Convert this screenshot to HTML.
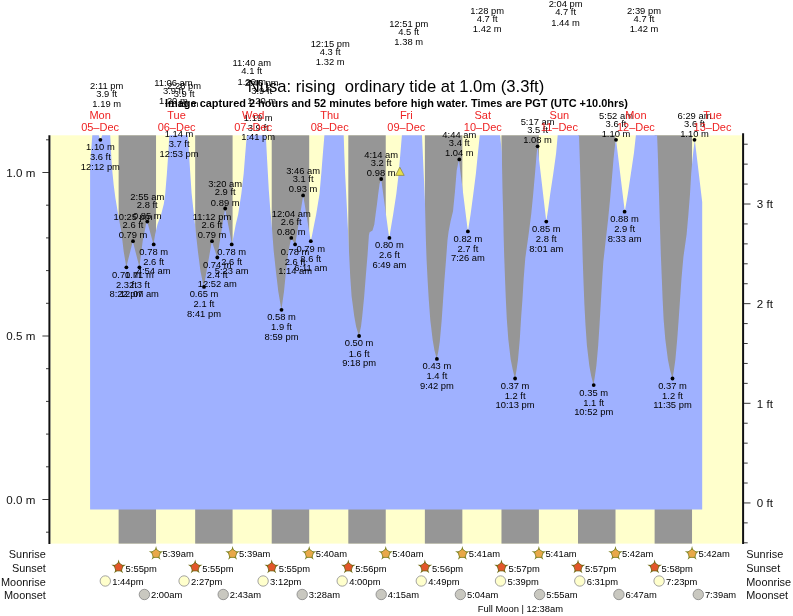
<!DOCTYPE html>
<html lang="en"><head><meta charset="utf-8"><title>Nusa tide times</title>
<style>
html,body{margin:0;padding:0;background:#fff;}
body{width:793px;height:616px;overflow:hidden;}
svg{display:block;font-family:"Liberation Sans",Arial,Helvetica,sans-serif;}
.s{font-size:9.4px;fill:#000;}
.d{font-size:11px;fill:#ee2222;}
.ax{font-size:11.6px;fill:#111;}
.lg{font-size:10.9px;fill:#111;}
.t{font-size:16.2px;fill:#000;}
.b{font-size:10.3px;font-weight:bold;fill:#000;}
</style></head><body>
<svg width="793" height="616" viewBox="0 0 793 616">
<defs><clipPath id="pc"><rect x="50.4" y="135.3" width="691.7" height="408.3"/></clipPath></defs>
<rect x="0" y="0" width="793" height="616" fill="#fff"/>
<rect x="50.4" y="135.3" width="691.7" height="408.3" fill="#ffffcc"/>
<rect x="118.62" y="135.3" width="37.42" height="408.3" fill="#969696"/>
<rect x="195.17" y="135.3" width="37.42" height="408.3" fill="#969696"/>
<rect x="271.72" y="135.3" width="37.48" height="408.3" fill="#969696"/>
<rect x="348.32" y="135.3" width="37.42" height="408.3" fill="#969696"/>
<rect x="424.87" y="135.3" width="37.48" height="408.3" fill="#969696"/>
<rect x="501.47" y="135.3" width="37.42" height="408.3" fill="#969696"/>
<rect x="578.02" y="135.3" width="37.48" height="408.3" fill="#969696"/>
<rect x="654.62" y="135.3" width="37.42" height="408.3" fill="#969696"/>
<path clip-path="url(#pc)" d="M90.10,509.60L90.10,165.00L92.30,135.30L93.30,122.00L97.80,122.00L98.80,135.30L100.40,140.50L102.10,135.30L103.00,122.00L109.60,122.00L110.20,135.30L110.80,146.00L111.40,159.00L112.40,172.00L113.70,185.00L115.40,198.00L117.60,211.00L119.50,222.00L121.30,231.20L123.70,251.50L126.30,267.10L132.80,241.20L139.40,267.00L142.70,241.00L146.00,224.60L147.20,221.40L153.50,244.50L155.10,234.50L157.50,224.30L161.20,214.20L163.80,204.00L165.20,193.90L166.90,173.60L168.30,153.30L169.30,135.30L170.00,122.00L187.30,122.00L188.00,135.30L189.50,161.60L191.60,193.30L195.10,225.50L197.90,251.20L200.50,271.50L203.80,287.10L211.80,241.20L217.20,257.40L225.10,208.50L232.00,244.40L233.80,234.50L235.80,224.30L238.20,214.20L241.30,193.90L243.70,173.60L245.30,153.30L246.80,135.30L247.50,122.00L265.00,122.00L265.80,135.30L267.20,161.60L268.80,190.00L270.30,210.00L272.00,228.50L273.70,250.90L275.90,271.20L278.30,291.50L281.40,309.70L284.00,291.50L286.00,271.20L288.50,250.90L291.20,238.00L295.20,244.60L303.20,195.40L310.80,241.20L312.20,234.50L314.20,224.30L316.20,214.20L319.50,193.90L321.30,173.60L322.90,153.30L324.40,135.30L325.10,122.00L343.00,122.00L343.70,135.30L344.30,153.30L345.10,173.60L346.20,193.90L347.20,214.20L348.20,234.50L349.20,255.60L350.20,275.90L351.60,296.20L354.30,316.50L356.10,326.60L358.90,336.00L361.00,326.60L362.20,316.50L364.20,296.20L365.80,275.90L367.50,255.60L368.90,235.30L369.60,232.20L372.50,230.60L374.30,224.50L375.60,214.20L377.00,204.00L378.20,193.90L379.60,183.70L381.20,179.20L389.20,237.90L391.20,226.00L393.20,214.20L396.30,193.90L398.70,173.60L400.40,153.30L401.90,135.30L402.60,122.00L421.30,122.00L422.00,135.30L423.10,160.00L424.00,180.00L424.90,200.00L425.40,220.00L425.90,240.00L426.60,260.00L427.60,280.00L428.80,300.00L430.30,320.00L432.70,340.00L434.40,350.00L436.70,358.80L438.30,351.60L439.80,341.50L441.60,321.20L443.00,300.90L444.40,280.60L446.00,260.30L447.50,240.00L448.60,231.50L450.60,221.30L453.00,211.20L455.00,190.90L456.70,170.60L458.90,159.40L467.90,231.50L470.60,214.20L473.30,193.90L475.90,173.60L477.90,153.30L479.80,135.30L480.50,122.00L499.30,122.00L500.10,135.30L501.80,152.00L502.20,173.60L502.60,193.90L503.20,214.20L503.60,234.50L504.20,256.00L505.00,278.30L505.80,298.60L506.80,318.90L508.30,339.20L510.70,359.50L512.70,369.60L515.00,378.70L516.60,369.60L518.00,359.50L519.80,339.20L521.00,318.90L522.50,298.60L523.70,278.30L525.30,258.00L528.60,234.50L531.20,214.20L533.20,193.90L535.00,173.60L536.70,153.30L537.50,146.30L546.30,221.50L548.30,208.00L550.20,193.90L553.30,173.60L556.10,153.30L557.70,135.30L558.40,122.00L578.20,122.00L579.00,135.30L579.80,159.30L580.40,179.60L581.00,199.90L581.60,220.20L582.20,240.50L582.80,262.00L583.60,284.30L584.40,304.60L585.50,324.90L586.90,345.20L589.30,365.50L591.10,375.60L593.50,385.00L595.00,375.60L596.40,365.50L598.20,345.20L599.50,324.90L600.70,304.60L601.90,284.30L603.30,262.00L605.70,240.50L608.00,220.20L610.00,199.90L611.80,179.60L613.50,159.30L615.10,144.00L616.10,139.90L624.80,211.60L627.80,193.90L630.90,173.60L633.90,153.30L635.90,135.30L636.60,122.00L656.40,122.00L657.10,135.30L657.80,153.30L658.40,173.60L659.00,193.90L659.60,214.20L660.20,234.50L660.90,256.00L661.80,278.30L662.60,298.60L663.60,318.90L665.30,339.20L667.90,359.50L669.90,369.60L672.50,378.70L674.00,369.60L675.40,359.50L677.20,339.20L678.70,318.90L680.10,298.60L681.50,278.30L683.40,257.00L686.60,234.50L688.40,214.20L690.00,193.90L691.20,173.60L692.40,160.00L693.60,149.00L694.80,140.00L702.20,202.00L702.20,509.60 Z" fill="#9fb1ff"/>
<g stroke="#111" stroke-width="2" fill="none">
<line x1="49.4" y1="135.3" x2="49.4" y2="543.9"/>
<line x1="743.1" y1="133.3" x2="743.1" y2="543.9"/>
</g>
<g stroke="#222" stroke-width="0.9" fill="none">
<line x1="46" y1="532.20" x2="49" y2="532.20"/>
<line x1="42.4" y1="499.50" x2="49" y2="499.50"/>
<line x1="46" y1="466.80" x2="49" y2="466.80"/>
<line x1="46" y1="434.10" x2="49" y2="434.10"/>
<line x1="46" y1="401.40" x2="49" y2="401.40"/>
<line x1="46" y1="368.70" x2="49" y2="368.70"/>
<line x1="42.4" y1="336.00" x2="49" y2="336.00"/>
<line x1="46" y1="303.30" x2="49" y2="303.30"/>
<line x1="46" y1="270.60" x2="49" y2="270.60"/>
<line x1="46" y1="237.90" x2="49" y2="237.90"/>
<line x1="46" y1="205.20" x2="49" y2="205.20"/>
<line x1="42.4" y1="172.50" x2="49" y2="172.50"/>
<line x1="46" y1="139.80" x2="49" y2="139.80"/>
<line x1="744" y1="542.81" x2="747.7" y2="542.81"/>
<line x1="744" y1="522.88" x2="747.7" y2="522.88"/>
<line x1="744" y1="502.95" x2="750.5" y2="502.95"/>
<line x1="744" y1="483.02" x2="747.7" y2="483.02"/>
<line x1="744" y1="463.09" x2="747.7" y2="463.09"/>
<line x1="744" y1="443.16" x2="747.7" y2="443.16"/>
<line x1="744" y1="423.23" x2="747.7" y2="423.23"/>
<line x1="744" y1="403.30" x2="750.5" y2="403.30"/>
<line x1="744" y1="383.37" x2="747.7" y2="383.37"/>
<line x1="744" y1="363.44" x2="747.7" y2="363.44"/>
<line x1="744" y1="343.51" x2="747.7" y2="343.51"/>
<line x1="744" y1="323.58" x2="747.7" y2="323.58"/>
<line x1="744" y1="303.65" x2="750.5" y2="303.65"/>
<line x1="744" y1="283.72" x2="747.7" y2="283.72"/>
<line x1="744" y1="263.79" x2="747.7" y2="263.79"/>
<line x1="744" y1="243.86" x2="747.7" y2="243.86"/>
<line x1="744" y1="223.93" x2="747.7" y2="223.93"/>
<line x1="744" y1="204.00" x2="750.5" y2="204.00"/>
<line x1="744" y1="184.07" x2="747.7" y2="184.07"/>
<line x1="744" y1="164.14" x2="747.7" y2="164.14"/>
<line x1="744" y1="144.21" x2="747.7" y2="144.21"/>
</g>
<text class="ax" x="35.3" y="176.9" text-anchor="end">1.0 m</text>
<text class="ax" x="35.3" y="340.4" text-anchor="end">0.5 m</text>
<text class="ax" x="35.3" y="503.9" text-anchor="end">0.0 m</text>
<text class="ax" x="756.8" y="208.4">3 ft</text>
<text class="ax" x="756.8" y="308.0">2 ft</text>
<text class="ax" x="756.8" y="407.7">1 ft</text>
<text class="ax" x="756.8" y="507.4">0 ft</text>
<circle cx="100.4" cy="139.8" r="1.9" fill="#000"/>
<circle cx="126.4" cy="267.3" r="1.9" fill="#000"/>
<circle cx="133.0" cy="241.2" r="1.9" fill="#000"/>
<circle cx="139.4" cy="267.3" r="1.9" fill="#000"/>
<circle cx="147.3" cy="221.6" r="1.9" fill="#000"/>
<circle cx="153.7" cy="244.4" r="1.9" fill="#000"/>
<circle cx="204.0" cy="286.9" r="1.9" fill="#000"/>
<circle cx="212.0" cy="241.2" r="1.9" fill="#000"/>
<circle cx="217.3" cy="257.5" r="1.9" fill="#000"/>
<circle cx="225.2" cy="208.5" r="1.9" fill="#000"/>
<circle cx="231.7" cy="244.4" r="1.9" fill="#000"/>
<circle cx="281.5" cy="309.8" r="1.9" fill="#000"/>
<circle cx="291.3" cy="237.9" r="1.9" fill="#000"/>
<circle cx="295.1" cy="244.4" r="1.9" fill="#000"/>
<circle cx="303.1" cy="195.4" r="1.9" fill="#000"/>
<circle cx="310.8" cy="241.2" r="1.9" fill="#000"/>
<circle cx="359.1" cy="336.0" r="1.9" fill="#000"/>
<circle cx="381.2" cy="179.0" r="1.9" fill="#000"/>
<circle cx="389.4" cy="237.9" r="1.9" fill="#000"/>
<circle cx="436.9" cy="358.9" r="1.9" fill="#000"/>
<circle cx="459.3" cy="159.4" r="1.9" fill="#000"/>
<circle cx="467.9" cy="231.4" r="1.9" fill="#000"/>
<circle cx="515.1" cy="378.5" r="1.9" fill="#000"/>
<circle cx="537.6" cy="146.3" r="1.9" fill="#000"/>
<circle cx="546.3" cy="221.6" r="1.9" fill="#000"/>
<circle cx="593.7" cy="385.1" r="1.9" fill="#000"/>
<circle cx="616.0" cy="139.8" r="1.9" fill="#000"/>
<circle cx="624.6" cy="211.7" r="1.9" fill="#000"/>
<circle cx="672.5" cy="378.5" r="1.9" fill="#000"/>
<circle cx="694.5" cy="139.8" r="1.9" fill="#000"/>
<text class="s" x="100.4" y="150.2" text-anchor="middle">1.10 m</text>
<text class="s" x="100.4" y="160.3" text-anchor="middle">3.6 ft</text>
<text class="s" x="100.4" y="169.7" text-anchor="middle">12:12 pm</text>
<text class="s" x="106.7" y="89.1" text-anchor="middle">2:11 pm</text>
<text class="s" x="106.7" y="97.1" text-anchor="middle">3.9 ft</text>
<text class="s" x="106.7" y="107.4" text-anchor="middle">1.19 m</text>
<text class="s" x="126.4" y="277.7" text-anchor="middle">0.71 m</text>
<text class="s" x="126.4" y="287.8" text-anchor="middle">2.3 ft</text>
<text class="s" x="126.4" y="297.2" text-anchor="middle">8:22 pm</text>
<text class="s" x="133.0" y="219.9" text-anchor="middle">10:25 pm</text>
<text class="s" x="133.0" y="227.9" text-anchor="middle">2.6 ft</text>
<text class="s" x="133.0" y="238.2" text-anchor="middle">0.79 m</text>
<text class="s" x="139.4" y="277.7" text-anchor="middle">0.71 m</text>
<text class="s" x="139.4" y="287.8" text-anchor="middle">2.3 ft</text>
<text class="s" x="139.4" y="297.2" text-anchor="middle">12:07 am</text>
<text class="s" x="147.3" y="200.3" text-anchor="middle">2:55 am</text>
<text class="s" x="147.3" y="208.3" text-anchor="middle">2.8 ft</text>
<text class="s" x="147.3" y="218.6" text-anchor="middle">0.85 m</text>
<text class="s" x="153.7" y="254.8" text-anchor="middle">0.78 m</text>
<text class="s" x="153.7" y="264.9" text-anchor="middle">2.6 ft</text>
<text class="s" x="153.7" y="274.3" text-anchor="middle">4:54 am</text>
<text class="s" x="173.4" y="85.8" text-anchor="middle">11:06 am</text>
<text class="s" x="173.4" y="93.8" text-anchor="middle">3.9 ft</text>
<text class="s" x="173.4" y="104.1" text-anchor="middle">1.20 m</text>
<text class="s" x="179.1" y="137.1" text-anchor="middle">1.14 m</text>
<text class="s" x="179.1" y="147.2" text-anchor="middle">3.7 ft</text>
<text class="s" x="179.1" y="156.6" text-anchor="middle">12:53 pm</text>
<text class="s" x="184.2" y="89.1" text-anchor="middle">2:28 pm</text>
<text class="s" x="184.2" y="97.1" text-anchor="middle">3.9 ft</text>
<text class="s" x="184.2" y="107.4" text-anchor="middle">1.19 m</text>
<text class="s" x="204.0" y="297.4" text-anchor="middle">0.65 m</text>
<text class="s" x="204.0" y="307.4" text-anchor="middle">2.1 ft</text>
<text class="s" x="204.0" y="316.9" text-anchor="middle">8:41 pm</text>
<text class="s" x="212.0" y="219.9" text-anchor="middle">11:12 pm</text>
<text class="s" x="212.0" y="227.9" text-anchor="middle">2.6 ft</text>
<text class="s" x="212.0" y="238.2" text-anchor="middle">0.79 m</text>
<text class="s" x="217.3" y="267.9" text-anchor="middle">0.74 m</text>
<text class="s" x="217.3" y="278.0" text-anchor="middle">2.4 ft</text>
<text class="s" x="217.3" y="287.4" text-anchor="middle">12:52 am</text>
<text class="s" x="225.2" y="187.2" text-anchor="middle">3:20 am</text>
<text class="s" x="225.2" y="195.2" text-anchor="middle">2.9 ft</text>
<text class="s" x="225.2" y="205.5" text-anchor="middle">0.89 m</text>
<text class="s" x="231.7" y="254.8" text-anchor="middle">0.78 m</text>
<text class="s" x="231.7" y="264.9" text-anchor="middle">2.6 ft</text>
<text class="s" x="231.7" y="274.3" text-anchor="middle">5:23 am</text>
<text class="s" x="251.8" y="66.2" text-anchor="middle">11:40 am</text>
<text class="s" x="251.8" y="74.2" text-anchor="middle">4.1 ft</text>
<text class="s" x="251.8" y="84.5" text-anchor="middle">1.26 m</text>
<text class="s" x="258.2" y="120.8" text-anchor="middle">1.19 m</text>
<text class="s" x="258.2" y="130.9" text-anchor="middle">3.9 ft</text>
<text class="s" x="258.2" y="140.3" text-anchor="middle">1:41 pm</text>
<text class="s" x="261.7" y="85.8" text-anchor="middle">2:46 pm</text>
<text class="s" x="261.7" y="93.8" text-anchor="middle">3.9 ft</text>
<text class="s" x="261.7" y="104.1" text-anchor="middle">1.20 m</text>
<text class="s" x="281.5" y="320.2" text-anchor="middle">0.58 m</text>
<text class="s" x="281.5" y="330.3" text-anchor="middle">1.9 ft</text>
<text class="s" x="281.5" y="339.7" text-anchor="middle">8:59 pm</text>
<text class="s" x="291.3" y="216.6" text-anchor="middle">12:04 am</text>
<text class="s" x="291.3" y="224.6" text-anchor="middle">2.6 ft</text>
<text class="s" x="291.3" y="234.9" text-anchor="middle">0.80 m</text>
<text class="s" x="295.1" y="254.8" text-anchor="middle">0.78 m</text>
<text class="s" x="295.1" y="264.9" text-anchor="middle">2.6 ft</text>
<text class="s" x="295.1" y="274.3" text-anchor="middle">1:14 am</text>
<text class="s" x="303.1" y="174.1" text-anchor="middle">3:46 am</text>
<text class="s" x="303.1" y="182.1" text-anchor="middle">3.1 ft</text>
<text class="s" x="303.1" y="192.4" text-anchor="middle">0.93 m</text>
<text class="s" x="310.8" y="251.6" text-anchor="middle">0.79 m</text>
<text class="s" x="310.8" y="261.7" text-anchor="middle">2.6 ft</text>
<text class="s" x="310.8" y="271.1" text-anchor="middle">6:11 am</text>
<text class="s" x="330.2" y="46.6" text-anchor="middle">12:15 pm</text>
<text class="s" x="330.2" y="54.6" text-anchor="middle">4.3 ft</text>
<text class="s" x="330.2" y="64.9" text-anchor="middle">1.32 m</text>
<text class="s" x="359.1" y="346.4" text-anchor="middle">0.50 m</text>
<text class="s" x="359.1" y="356.5" text-anchor="middle">1.6 ft</text>
<text class="s" x="359.1" y="365.9" text-anchor="middle">9:18 pm</text>
<text class="s" x="381.2" y="157.7" text-anchor="middle">4:14 am</text>
<text class="s" x="381.2" y="165.7" text-anchor="middle">3.2 ft</text>
<text class="s" x="381.2" y="176.0" text-anchor="middle">0.98 m</text>
<text class="s" x="389.4" y="248.3" text-anchor="middle">0.80 m</text>
<text class="s" x="389.4" y="258.4" text-anchor="middle">2.6 ft</text>
<text class="s" x="389.4" y="267.8" text-anchor="middle">6:49 am</text>
<text class="s" x="408.7" y="26.9" text-anchor="middle">12:51 pm</text>
<text class="s" x="408.7" y="34.9" text-anchor="middle">4.5 ft</text>
<text class="s" x="408.7" y="45.2" text-anchor="middle">1.38 m</text>
<text class="s" x="436.9" y="369.3" text-anchor="middle">0.43 m</text>
<text class="s" x="436.9" y="379.4" text-anchor="middle">1.4 ft</text>
<text class="s" x="436.9" y="388.8" text-anchor="middle">9:42 pm</text>
<text class="s" x="459.3" y="138.1" text-anchor="middle">4:44 am</text>
<text class="s" x="459.3" y="146.1" text-anchor="middle">3.4 ft</text>
<text class="s" x="459.3" y="156.4" text-anchor="middle">1.04 m</text>
<text class="s" x="467.9" y="241.8" text-anchor="middle">0.82 m</text>
<text class="s" x="467.9" y="251.9" text-anchor="middle">2.7 ft</text>
<text class="s" x="467.9" y="261.3" text-anchor="middle">7:26 am</text>
<text class="s" x="487.2" y="13.9" text-anchor="middle">1:28 pm</text>
<text class="s" x="487.2" y="21.9" text-anchor="middle">4.7 ft</text>
<text class="s" x="487.2" y="32.2" text-anchor="middle">1.42 m</text>
<text class="s" x="515.1" y="388.9" text-anchor="middle">0.37 m</text>
<text class="s" x="515.1" y="399.0" text-anchor="middle">1.2 ft</text>
<text class="s" x="515.1" y="408.4" text-anchor="middle">10:13 pm</text>
<text class="s" x="537.6" y="125.0" text-anchor="middle">5:17 am</text>
<text class="s" x="537.6" y="133.0" text-anchor="middle">3.5 ft</text>
<text class="s" x="537.6" y="143.3" text-anchor="middle">1.08 m</text>
<text class="s" x="546.3" y="232.0" text-anchor="middle">0.85 m</text>
<text class="s" x="546.3" y="242.1" text-anchor="middle">2.8 ft</text>
<text class="s" x="546.3" y="251.5" text-anchor="middle">8:01 am</text>
<text class="s" x="565.6" y="7.3" text-anchor="middle">2:04 pm</text>
<text class="s" x="565.6" y="15.3" text-anchor="middle">4.7 ft</text>
<text class="s" x="565.6" y="25.6" text-anchor="middle">1.44 m</text>
<text class="s" x="593.7" y="395.5" text-anchor="middle">0.35 m</text>
<text class="s" x="593.7" y="405.6" text-anchor="middle">1.1 ft</text>
<text class="s" x="593.7" y="415.0" text-anchor="middle">10:52 pm</text>
<text class="s" x="616.0" y="118.5" text-anchor="middle">5:52 am</text>
<text class="s" x="616.0" y="126.5" text-anchor="middle">3.6 ft</text>
<text class="s" x="616.0" y="136.8" text-anchor="middle">1.10 m</text>
<text class="s" x="624.6" y="222.1" text-anchor="middle">0.88 m</text>
<text class="s" x="624.6" y="232.2" text-anchor="middle">2.9 ft</text>
<text class="s" x="624.6" y="241.6" text-anchor="middle">8:33 am</text>
<text class="s" x="644.0" y="13.9" text-anchor="middle">2:39 pm</text>
<text class="s" x="644.0" y="21.9" text-anchor="middle">4.7 ft</text>
<text class="s" x="644.0" y="32.2" text-anchor="middle">1.42 m</text>
<text class="s" x="672.5" y="388.9" text-anchor="middle">0.37 m</text>
<text class="s" x="672.5" y="399.0" text-anchor="middle">1.2 ft</text>
<text class="s" x="672.5" y="408.4" text-anchor="middle">11:35 pm</text>
<text class="s" x="694.5" y="118.5" text-anchor="middle">6:29 am</text>
<text class="s" x="694.5" y="126.5" text-anchor="middle">3.6 ft</text>
<text class="s" x="694.5" y="136.8" text-anchor="middle">1.10 m</text>
<path d="M399.8,167.2 L404.2,175.4 L395.6,175.4 Z" fill="#e6e04a" stroke="#8f8848" stroke-width="0.8"/>
<text class="t" x="247.8" y="92.2" textLength="296.4" lengthAdjust="spacingAndGlyphs" style="white-space:pre">Nusa: rising  ordinary tide at 1.0m (3.3ft)</text>
<text class="b" x="165" y="107" textLength="463" lengthAdjust="spacingAndGlyphs">Image captured 2 hours and 52 minutes before high water. Times are PGT (UTC +10.0hrs)</text>
<text class="d" x="100.1" y="118.6" text-anchor="middle">Mon</text>
<text class="d" x="100.1" y="131" text-anchor="middle">05–Dec</text>
<text class="d" x="176.6" y="118.6" text-anchor="middle">Tue</text>
<text class="d" x="176.6" y="131" text-anchor="middle">06–Dec</text>
<text class="d" x="253.2" y="118.6" text-anchor="middle">Wed</text>
<text class="d" x="253.2" y="131" text-anchor="middle">07–Dec</text>
<text class="d" x="329.7" y="118.6" text-anchor="middle">Thu</text>
<text class="d" x="329.7" y="131" text-anchor="middle">08–Dec</text>
<text class="d" x="406.3" y="118.6" text-anchor="middle">Fri</text>
<text class="d" x="406.3" y="131" text-anchor="middle">09–Dec</text>
<text class="d" x="482.8" y="118.6" text-anchor="middle">Sat</text>
<text class="d" x="482.8" y="131" text-anchor="middle">10–Dec</text>
<text class="d" x="559.4" y="118.6" text-anchor="middle">Sun</text>
<text class="d" x="559.4" y="131" text-anchor="middle">11–Dec</text>
<text class="d" x="635.9" y="118.6" text-anchor="middle">Mon</text>
<text class="d" x="635.9" y="131" text-anchor="middle">12–Dec</text>
<text class="d" x="712.5" y="118.6" text-anchor="middle">Tue</text>
<text class="d" x="712.5" y="131" text-anchor="middle">13–Dec</text>
<text class="lg" x="45.8" y="558.0" text-anchor="end">Sunrise</text>
<text class="lg" x="746.3" y="558.0">Sunrise</text>
<text class="lg" x="45.8" y="571.8" text-anchor="end">Sunset</text>
<text class="lg" x="746.3" y="571.8">Sunset</text>
<text class="lg" x="45.8" y="585.5" text-anchor="end">Moonrise</text>
<text class="lg" x="746.3" y="585.5">Moonrise</text>
<text class="lg" x="45.8" y="599.1" text-anchor="end">Moonset</text>
<text class="lg" x="746.3" y="599.1">Moonset</text>
<polygon points="156.04,546.10 157.57,551.60 163.27,551.35 158.52,554.50 160.51,559.85 156.04,556.30 151.58,559.85 153.57,554.50 148.82,551.35 154.52,551.60" fill="#7a8020"/><polygon points="156.04,549.10 160.42,552.28 158.75,557.42 153.34,557.42 151.67,552.28" fill="#e8a848" stroke="#7a8020" stroke-width="0.8" stroke-linejoin="round"/>
<text class="s" x="162.5" y="557.3">5:39am</text>
<polygon points="118.62,559.60 120.15,565.10 125.85,564.85 121.09,568.00 123.09,573.35 118.62,569.80 114.15,573.35 116.15,568.00 111.39,564.85 117.09,565.10" fill="#6e6a14"/><polygon points="118.62,562.60 123.00,565.78 121.33,570.92 115.92,570.92 114.25,565.78" fill="#e2562a" stroke="#6e6a14" stroke-width="0.8" stroke-linejoin="round"/>
<text class="s" x="125.6" y="572.2">5:55pm</text>
<circle cx="105.3" cy="581" r="5.2" fill="#ffffcc" stroke="#9a9a9a" stroke-width="0.9"/>
<text class="s" x="112.3" y="585.3">1:44pm</text>
<circle cx="144.4" cy="594.5" r="5.2" fill="#c9c8c0" stroke="#8c8c8c" stroke-width="0.9"/>
<text class="s" x="151.0" y="598.3">2:00am</text>
<polygon points="232.59,546.10 234.12,551.60 239.82,551.35 235.07,554.50 237.06,559.85 232.59,556.30 228.13,559.85 230.12,554.50 225.36,551.35 231.06,551.60" fill="#7a8020"/><polygon points="232.59,549.10 236.97,552.28 235.30,557.42 229.89,557.42 228.22,552.28" fill="#e8a848" stroke="#7a8020" stroke-width="0.8" stroke-linejoin="round"/>
<text class="s" x="239.1" y="557.3">5:39am</text>
<polygon points="195.17,559.60 196.70,565.10 202.40,564.85 197.64,568.00 199.64,573.35 195.17,569.80 190.70,573.35 192.70,568.00 187.94,564.85 193.64,565.10" fill="#6e6a14"/><polygon points="195.17,562.60 199.54,565.78 197.87,570.92 192.47,570.92 190.79,565.78" fill="#e2562a" stroke="#6e6a14" stroke-width="0.8" stroke-linejoin="round"/>
<text class="s" x="202.2" y="572.2">5:55pm</text>
<circle cx="184.1" cy="581" r="5.2" fill="#ffffcc" stroke="#9a9a9a" stroke-width="0.9"/>
<text class="s" x="191.1" y="585.3">2:27pm</text>
<circle cx="223.2" cy="594.5" r="5.2" fill="#c9c8c0" stroke="#8c8c8c" stroke-width="0.9"/>
<text class="s" x="229.8" y="598.3">2:43am</text>
<polygon points="309.19,546.10 310.72,551.60 316.42,551.35 311.67,554.50 313.66,559.85 309.19,556.30 304.73,559.85 306.72,554.50 301.97,551.35 307.67,551.60" fill="#7a8020"/><polygon points="309.19,549.10 313.57,552.28 311.90,557.42 306.49,557.42 304.82,552.28" fill="#e8a848" stroke="#7a8020" stroke-width="0.8" stroke-linejoin="round"/>
<text class="s" x="315.7" y="557.3">5:40am</text>
<polygon points="271.72,559.60 273.25,565.10 278.95,564.85 274.19,568.00 276.18,573.35 271.72,569.80 267.25,573.35 269.24,568.00 264.49,564.85 270.19,565.10" fill="#6e6a14"/><polygon points="271.72,562.60 276.09,565.78 274.42,570.92 269.01,570.92 267.34,565.78" fill="#e2562a" stroke="#6e6a14" stroke-width="0.8" stroke-linejoin="round"/>
<text class="s" x="278.7" y="572.2">5:55pm</text>
<circle cx="263.1" cy="581" r="5.2" fill="#ffffcc" stroke="#9a9a9a" stroke-width="0.9"/>
<text class="s" x="270.1" y="585.3">3:12pm</text>
<circle cx="302.2" cy="594.5" r="5.2" fill="#c9c8c0" stroke="#8c8c8c" stroke-width="0.9"/>
<text class="s" x="308.8" y="598.3">3:28am</text>
<polygon points="385.74,546.10 387.27,551.60 392.97,551.35 388.21,554.50 390.21,559.85 385.74,556.30 381.27,559.85 383.27,554.50 378.51,551.35 384.21,551.60" fill="#7a8020"/><polygon points="385.74,549.10 390.12,552.28 388.45,557.42 383.04,557.42 381.37,552.28" fill="#e8a848" stroke="#7a8020" stroke-width="0.8" stroke-linejoin="round"/>
<text class="s" x="392.2" y="557.3">5:40am</text>
<polygon points="348.32,559.60 349.85,565.10 355.55,564.85 350.79,568.00 352.79,573.35 348.32,569.80 343.85,573.35 345.85,568.00 341.09,564.85 346.79,565.10" fill="#6e6a14"/><polygon points="348.32,562.60 352.69,565.78 351.02,570.92 345.61,570.92 343.94,565.78" fill="#e2562a" stroke="#6e6a14" stroke-width="0.8" stroke-linejoin="round"/>
<text class="s" x="355.3" y="572.2">5:56pm</text>
<circle cx="342.2" cy="581" r="5.2" fill="#ffffcc" stroke="#9a9a9a" stroke-width="0.9"/>
<text class="s" x="349.2" y="585.3">4:00pm</text>
<circle cx="381.2" cy="594.5" r="5.2" fill="#c9c8c0" stroke="#8c8c8c" stroke-width="0.9"/>
<text class="s" x="387.8" y="598.3">4:15am</text>
<polygon points="462.34,546.10 463.87,551.60 469.57,551.35 464.82,554.50 466.81,559.85 462.34,556.30 457.88,559.85 459.87,554.50 455.11,551.35 460.81,551.60" fill="#7a8020"/><polygon points="462.34,549.10 466.72,552.28 465.05,557.42 459.64,557.42 457.97,552.28" fill="#e8a848" stroke="#7a8020" stroke-width="0.8" stroke-linejoin="round"/>
<text class="s" x="468.8" y="557.3">5:41am</text>
<polygon points="424.87,559.60 426.39,565.10 432.09,564.85 427.34,568.00 429.33,573.35 424.87,569.80 420.40,573.35 422.39,568.00 417.64,564.85 423.34,565.10" fill="#6e6a14"/><polygon points="424.87,562.60 429.24,565.78 427.57,570.92 422.16,570.92 420.49,565.78" fill="#e2562a" stroke="#6e6a14" stroke-width="0.8" stroke-linejoin="round"/>
<text class="s" x="431.9" y="572.2">5:56pm</text>
<circle cx="421.3" cy="581" r="5.2" fill="#ffffcc" stroke="#9a9a9a" stroke-width="0.9"/>
<text class="s" x="428.3" y="585.3">4:49pm</text>
<circle cx="460.4" cy="594.5" r="5.2" fill="#c9c8c0" stroke="#8c8c8c" stroke-width="0.9"/>
<text class="s" x="467.0" y="598.3">5:04am</text>
<polygon points="538.89,546.10 540.42,551.60 546.12,551.35 541.36,554.50 543.36,559.85 538.89,556.30 534.42,559.85 536.42,554.50 531.66,551.35 537.36,551.60" fill="#7a8020"/><polygon points="538.89,549.10 543.27,552.28 541.59,557.42 536.19,557.42 534.52,552.28" fill="#e8a848" stroke="#7a8020" stroke-width="0.8" stroke-linejoin="round"/>
<text class="s" x="545.4" y="557.3">5:41am</text>
<polygon points="501.47,559.60 503.00,565.10 508.70,564.85 503.94,568.00 505.93,573.35 501.47,569.80 497.00,573.35 498.99,568.00 494.24,564.85 499.94,565.10" fill="#6e6a14"/><polygon points="501.47,562.60 505.84,565.78 504.17,570.92 498.76,570.92 497.09,565.78" fill="#e2562a" stroke="#6e6a14" stroke-width="0.8" stroke-linejoin="round"/>
<text class="s" x="508.5" y="572.2">5:57pm</text>
<circle cx="500.5" cy="581" r="5.2" fill="#ffffcc" stroke="#9a9a9a" stroke-width="0.9"/>
<text class="s" x="507.5" y="585.3">5:39pm</text>
<circle cx="539.6" cy="594.5" r="5.2" fill="#c9c8c0" stroke="#8c8c8c" stroke-width="0.9"/>
<text class="s" x="546.2" y="598.3">5:55am</text>
<polygon points="615.49,546.10 617.02,551.60 622.72,551.35 617.96,554.50 619.96,559.85 615.49,556.30 611.02,559.85 613.02,554.50 608.26,551.35 613.96,551.60" fill="#7a8020"/><polygon points="615.49,549.10 619.87,552.28 618.20,557.42 612.79,557.42 611.12,552.28" fill="#e8a848" stroke="#7a8020" stroke-width="0.8" stroke-linejoin="round"/>
<text class="s" x="622.0" y="557.3">5:42am</text>
<polygon points="578.02,559.60 579.54,565.10 585.24,564.85 580.49,568.00 582.48,573.35 578.02,569.80 573.55,573.35 575.54,568.00 570.79,564.85 576.49,565.10" fill="#6e6a14"/><polygon points="578.02,562.60 582.39,565.78 580.72,570.92 575.31,570.92 573.64,565.78" fill="#e2562a" stroke="#6e6a14" stroke-width="0.8" stroke-linejoin="round"/>
<text class="s" x="585.0" y="572.2">5:57pm</text>
<circle cx="579.8" cy="581" r="5.2" fill="#ffffcc" stroke="#9a9a9a" stroke-width="0.9"/>
<text class="s" x="586.8" y="585.3">6:31pm</text>
<circle cx="618.9" cy="594.5" r="5.2" fill="#c9c8c0" stroke="#8c8c8c" stroke-width="0.9"/>
<text class="s" x="625.5" y="598.3">6:47am</text>
<polygon points="692.04,546.10 693.57,551.60 699.27,551.35 694.51,554.50 696.51,559.85 692.04,556.30 687.57,559.85 689.57,554.50 684.81,551.35 690.51,551.60" fill="#7a8020"/><polygon points="692.04,549.10 696.42,552.28 694.74,557.42 689.34,557.42 687.67,552.28" fill="#e8a848" stroke="#7a8020" stroke-width="0.8" stroke-linejoin="round"/>
<text class="s" x="698.5" y="557.3">5:42am</text>
<polygon points="654.62,559.60 656.14,565.10 661.84,564.85 657.09,568.00 659.08,573.35 654.62,569.80 650.15,573.35 652.14,568.00 647.39,564.85 653.09,565.10" fill="#6e6a14"/><polygon points="654.62,562.60 658.99,565.78 657.32,570.92 651.91,570.92 650.24,565.78" fill="#e2562a" stroke="#6e6a14" stroke-width="0.8" stroke-linejoin="round"/>
<text class="s" x="661.6" y="572.2">5:58pm</text>
<circle cx="659.1" cy="581" r="5.2" fill="#ffffcc" stroke="#9a9a9a" stroke-width="0.9"/>
<text class="s" x="666.1" y="585.3">7:23pm</text>
<circle cx="698.3" cy="594.5" r="5.2" fill="#c9c8c0" stroke="#8c8c8c" stroke-width="0.9"/>
<text class="s" x="704.9" y="598.3">7:39am</text>
<text class="s" x="477.7" y="612" textLength="85.3" lengthAdjust="spacingAndGlyphs">Full Moon | 12:38am</text>
</svg></body></html>
